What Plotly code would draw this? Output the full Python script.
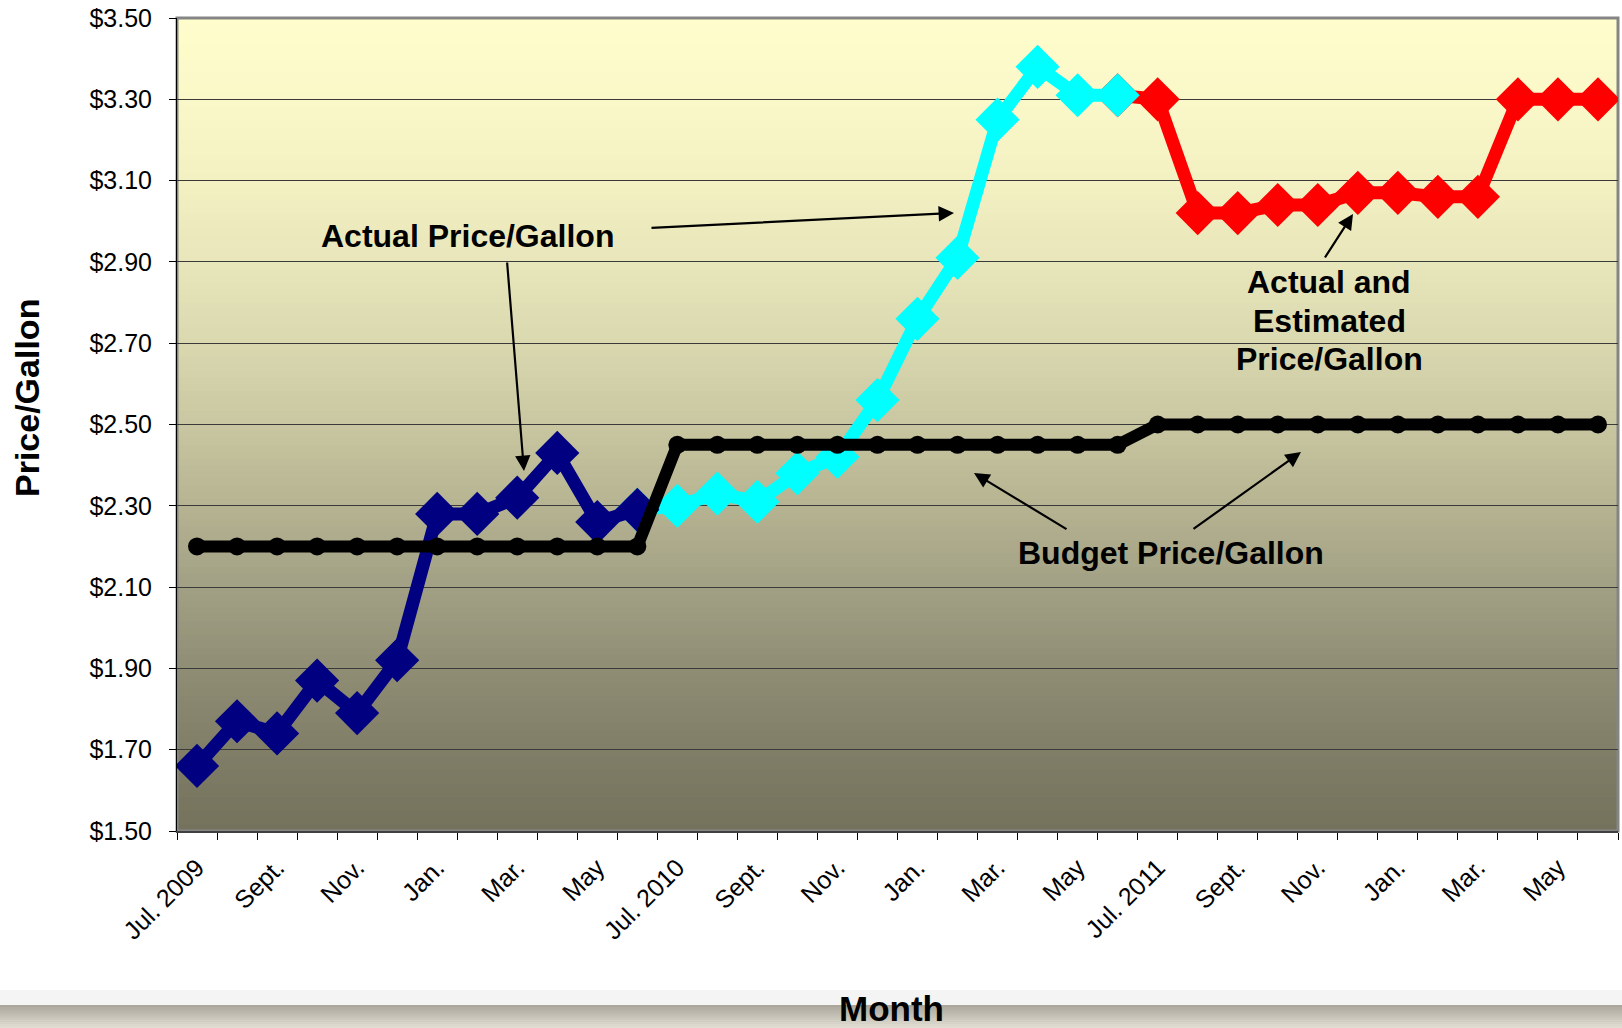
import plotly.graph_objects as go

# ---------------- data ----------------
months = ["Jul 2009", "Aug 2009", "Sep 2009", "Oct 2009", "Nov 2009", "Dec 2009",
          "Jan 2010", "Feb 2010", "Mar 2010", "Apr 2010", "May 2010", "Jun 2010",
          "Jul 2010", "Aug 2010", "Sep 2010", "Oct 2010", "Nov 2010", "Dec 2010",
          "Jan 2011", "Feb 2011", "Mar 2011", "Apr 2011", "May 2011", "Jun 2011",
          "Jul 2011", "Aug 2011", "Sep 2011", "Oct 2011", "Nov 2011", "Dec 2011",
          "Jan 2012", "Feb 2012", "Mar 2012", "Apr 2012", "May 2012", "Jun 2012"]
tick_text = ["Jul. 2009", "", "Sept.", "", "Nov.", "", "Jan.", "", "Mar.", "", "May", "",
             "Jul. 2010", "", "Sept.", "", "Nov.", "", "Jan.", "", "Mar.", "", "May", "",
             "Jul. 2011", "", "Sept.", "", "Nov.", "", "Jan.", "", "Mar.", "", "May", ""]

actual_fy2010 = [1.66, 1.77, 1.74, 1.87, 1.79, 1.92, 2.28, 2.28, 2.32, 2.43, 2.26, 2.29]
actual_fy2011 = [2.30, 2.33, 2.31, 2.38, 2.42, 2.56, 2.76, 2.91, 3.25, 3.38, 3.31, 3.31]
estimated_fy2012 = [3.30, 3.02, 3.02, 3.04, 3.04, 3.07, 3.07, 3.06, 3.06, 3.30, 3.30, 3.30]
budget = [2.20] * 12 + [2.45] * 12 + [2.50] * 12

y_ticks = [1.50, 1.70, 1.90, 2.10, 2.30, 2.50, 2.70, 2.90, 3.10, 3.30, 3.50]

# ---------------- figure geometry (page pixels; body margin removed) ----------------
W, H = 1622, 1028
PX0, PX1 = 177, 1618          # plot area in page pixels
PY0, PY1 = 18, 831
L, R, T, B = PX0, W - PX1, PY0, H - PY1
PW, PH = PX1 - PX0, PY1 - PY0


def px(x):
    return (x - PX0) / PW


def py(y):
    return (PY1 - y) / PH


FONT = "Liberation Sans, Arial, Helvetica, sans-serif"

fig = go.Figure()

# order: red, cyan, navy, black (black on top)
fig.add_trace(go.Scatter(
    x=months[23:36], y=[actual_fy2011[-1]] + estimated_fy2012,
    mode="lines+markers", line=dict(color="#FF0000", width=13),
    marker=dict(symbol="diamond", size=34, color="#FF0000"),
    showlegend=False, hoverinfo="x+y"))
fig.add_trace(go.Scatter(
    x=months[11:24], y=[actual_fy2010[-1]] + actual_fy2011,
    mode="lines+markers", line=dict(color="#00FFFF", width=13),
    marker=dict(symbol="diamond", size=34, color="#00FFFF"),
    showlegend=False, hoverinfo="x+y"))
fig.add_trace(go.Scatter(
    x=months[0:12], y=actual_fy2010,
    mode="lines+markers", line=dict(color="#000080", width=13),
    marker=dict(symbol="diamond", size=34, color="#000080"),
    showlegend=False, hoverinfo="x+y"))
fig.add_trace(go.Scatter(
    x=months, y=budget,
    mode="lines+markers", line=dict(color="#000000", width=12),
    marker=dict(symbol="circle", size=18, color="#000000"),
    showlegend=False, hoverinfo="x+y"))

# ---------------- background gradient ----------------
stops = [(0.0, (0xFF, 0xFD, 0xCC)), (0.1, (0xFA, 0xF8, 0xC8)), (0.2, (0xF3, 0xF1, 0xC2)),
         (0.3, (0xE8, 0xE6, 0xBA)), (0.4, (0xDA, 0xD8, 0xAF)), (0.5, (0xC9, 0xC7, 0xA1)),
         (0.6, (0xB5, 0xB3, 0x91)), (0.7, (0xA2, 0xA0, 0x84)), (0.8, (0x8F, 0x8D, 0x74)),
         (0.9, (0x80, 0x7E, 0x67)), (1.0, (0x74, 0x72, 0x5C))]


def grad(t):
    for (t0, c0), (t1, c1) in zip(stops[:-1], stops[1:]):
        if t0 <= t <= t1:
            f = (t - t0) / (t1 - t0)
            return "rgb(%d,%d,%d)" % tuple(round(a + (b - a) * f) for a, b in zip(c0, c1))
    return "rgb(%d,%d,%d)" % stops[-1][1]


shapes = []
N = 120
for i in range(N):
    t = (i + 0.5) / N  # fraction from top
    y1 = 1 - i / N
    y0 = max(0, 1 - (i + 1) / N - 0.002)
    shapes.append(dict(type="rect", xref="x domain", yref="y domain",
                       x0=0, x1=1, y0=y0, y1=y1, layer="below",
                       line=dict(width=0), fillcolor=grad(t)))
# plot border (grey)
shapes.append(dict(type="rect", xref="x domain", yref="y domain", x0=0, x1=1, y0=0, y1=1,
                   layer="below", line=dict(color="#858585", width=3), fillcolor="rgba(0,0,0,0)"))

# bottom shadow band
shapes.append(dict(type="rect", xref="paper", yref="paper", x0=px(0), x1=px(1630),
                   y0=py(1005), y1=py(990), line=dict(width=0), fillcolor="#F4F4F4", layer="below"))
band = [(0xA9, 0xA5, 0x9A), (0xE2, 0xDE, 0xD3)]
NB = 12
for i in range(NB):
    f = (i + 0.5) / NB
    c = tuple(round(a + (b - a) * f) for a, b in zip(*band))
    ya = 1005 + (1028 - 1005) * i / NB
    yb = 1005 + (1028 - 1005) * (i + 1) / NB + 0.5
    shapes.append(dict(type="rect", xref="paper", yref="paper", x0=px(0), x1=px(1630),
                       y0=py(yb), y1=py(ya), line=dict(width=0),
                       fillcolor="rgb(%d,%d,%d)" % c, layer="below"))

# ---------------- annotations ----------------
ann = []


def label(text, x, y, size=32):
    ann.append(dict(text="<b>%s</b>" % text, x=px(x), y=py(y), xref="paper", yref="paper",
                    showarrow=False, xanchor="center", yanchor="middle",
                    font=dict(family=FONT, size=size, color="#000000")))


def arrow(tail, head):
    ann.append(dict(text="", x=px(head[0]), y=py(head[1]), xref="paper", yref="paper",
                    ax=tail[0] - head[0], ay=tail[1] - head[1], axref="pixel", ayref="pixel",
                    showarrow=True, arrowhead=2, arrowsize=1.4, arrowwidth=2.2,
                    arrowcolor="#000000", standoff=0))


label("Actual Price/Gallon", 467.6, 236)
arrow((507, 261), (524, 471))
arrow((650, 228), (954, 213))

label("Actual and", 1329, 282)
label("Estimated", 1329, 321)
label("Price/Gallon", 1329, 359)
arrow((1324, 259), (1353, 214))

label("Budget Price/Gallon", 1171, 553)
arrow((1068, 530), (974, 473))
arrow((1192, 530), (1301, 452))

# axis titles
ann.append(dict(text="<b>Price/Gallon</b>", x=px(27), y=py(398), xref="paper", yref="paper",
                showarrow=False, textangle=-90, xanchor="center", yanchor="middle",
                font=dict(family=FONT, size=34, color="#000000")))
ann.append(dict(text="<b>Month</b>", x=px(891), y=py(1009), xref="paper", yref="paper",
                showarrow=False, xanchor="center", yanchor="middle",
                font=dict(family=FONT, size=35, color="#000000")))

fig.update_layout(
    width=W, height=H,
    margin=dict(l=L, r=R, t=T, b=B, pad=0, autoexpand=False),
    paper_bgcolor="#FFFFFF", plot_bgcolor="#FFFDCC",
    shapes=shapes, annotations=ann, showlegend=False,
    font=dict(family=FONT, color="#000000"),
)
fig.update_xaxes(
    type="category", categoryorder="array", categoryarray=months,
    range=[-0.5, 35.5], tickmode="array", tickvals=months, ticktext=tick_text,
    tickangle=-45, tickson="boundaries", ticks="outside", ticklen=7, tickwidth=1,
    tickcolor="#000000", showline=True, linecolor="#404040", linewidth=2,
    showgrid=False, zeroline=False, tickfont=dict(family=FONT, size=25, color="#000000"),
    ticklabelstandoff=10, automargin=False,
)
fig.update_yaxes(
    range=[1.5, 3.5], tickmode="array", tickvals=y_ticks, tickformat="$.2f",
    ticks="outside", ticklen=7, tickwidth=1, tickcolor="#000000",
    showline=True, linecolor="#000000", linewidth=1,
    showgrid=True, gridcolor="#3A3A3A", gridwidth=1, zeroline=False,
    tickfont=dict(family=FONT, size=25, color="#000000"), ticklabelstandoff=12,
    ticklabeloverflow="allow", automargin=False,
)

fig.write_html("out.html", config={"displayModeBar": False},
               post_script="document.body.style.margin='0px';document.body.style.overflow='hidden';")
